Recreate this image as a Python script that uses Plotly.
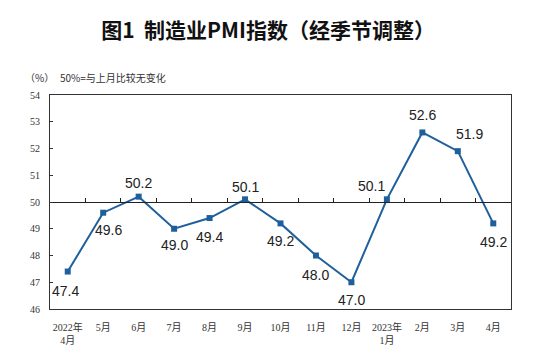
import plotly.graph_objects as go

months = ["2022年<br>4月", "5月", "6月", "7月", "8月", "9月", "10月", "11月", "12月",
          "2023年<br>1月", "2月", "3月", "4月"]
pmi = [47.4, 49.6, 50.2, 49.0, 49.4, 50.1, 49.2, 48.0, 47.0, 50.1, 52.6, 51.9, 49.2]
y_min, y_max, ref_level = 46, 54, 50

# label placement (pixel offsets from each point; style only)
label_dx = [-2, 5, 0, 0, 0, 0, 0, 0, 0, -15, 0, 12, 0]
label_dy = [-19, -17, 14, -16, -19, 12, -18, -19, -18, 13, 17, 17, -19]

LINE = "#1f5f9b"
idx = list(range(len(months)))

fig = go.Figure()
fig.add_trace(go.Scatter(
    x=idx, y=pmi, mode="lines+markers",
    line=dict(color=LINE, width=2),
    marker=dict(symbol="square", size=6, color=LINE),
    hoverinfo="skip", showlegend=False,
))
# invisible trace to host the reference (50) axis
fig.add_trace(go.Scatter(x=idx, y=pmi, xaxis="x2", mode="none", showlegend=False, hoverinfo="skip"))

annotations = [
    dict(x=i, y=v, xref="x", yref="y", text=f"{v:.1f}", showarrow=False,
         xshift=dx, yshift=dy, xanchor="center", yanchor="middle",
         font=dict(family="Liberation Sans, Arial", size=14, color="#222"))
    for i, v, dx, dy in zip(idx, pmi, label_dx, label_dy)
]
annotations += [
    dict(text="（%）", xref="paper", yref="paper", x=-0.058, y=1.08, xanchor="left",
         yanchor="middle", showarrow=False,
         font=dict(family="Noto Sans CJK SC", size=10, color="#333")),
    dict(text="50%=与上月比较无变化", xref="paper", yref="paper", x=0.018, y=1.08,
         xanchor="left", yanchor="middle", showarrow=False,
         font=dict(family="Noto Sans CJK SC", size=10, color="#333")),
]

fig.update_layout(
    width=534, height=348,
    margin=dict(l=42, r=31, t=87, b=47),
    paper_bgcolor="white", plot_bgcolor="white",
    title=dict(text="图1  制造业PMI指数（经季节调整）", xref="container", x=0.487, xanchor="center",
               yref="container", y=0.934, yanchor="middle",
               font=dict(family="Noto Sans CJK SC", size=21, color="#111", weight="bold")),
    xaxis=dict(range=[-0.5, len(months) - 0.5], tickvals=idx, ticktext=months,
               showline=True, linecolor="#333", linewidth=1, mirror=True,
               showgrid=False, zeroline=False, ticks="", automargin=False,
               ticklabelstandoff=9,
               tickfont=dict(family="Liberation Serif, Noto Sans CJK SC", size=10, color="#333")),
    xaxis2=dict(overlaying="x", anchor="free", side="bottom",
                position=(ref_level - y_min) / (y_max - y_min),
                range=[-0.5, len(months) - 0.5],
                tickvals=[i + 0.5 for i in idx[:-1]],
                ticks="inside", ticklen=4, tickcolor="#222", tickwidth=1,
                showline=True, linecolor="#222", linewidth=1.3, automargin=False,
                showticklabels=False, showgrid=False, zeroline=False),
    yaxis=dict(range=[y_min, y_max], dtick=1, showline=True, linecolor="#333", linewidth=1,
               mirror=True, showgrid=False, zeroline=False, automargin=False,
               ticks="inside", ticklen=3, tickcolor="#333", tickwidth=1,
               ticklabelstandoff=7,
               tickfont=dict(family="Liberation Serif", size=10, color="#333")),
    annotations=annotations,
)

fig.write_html("out.html")
